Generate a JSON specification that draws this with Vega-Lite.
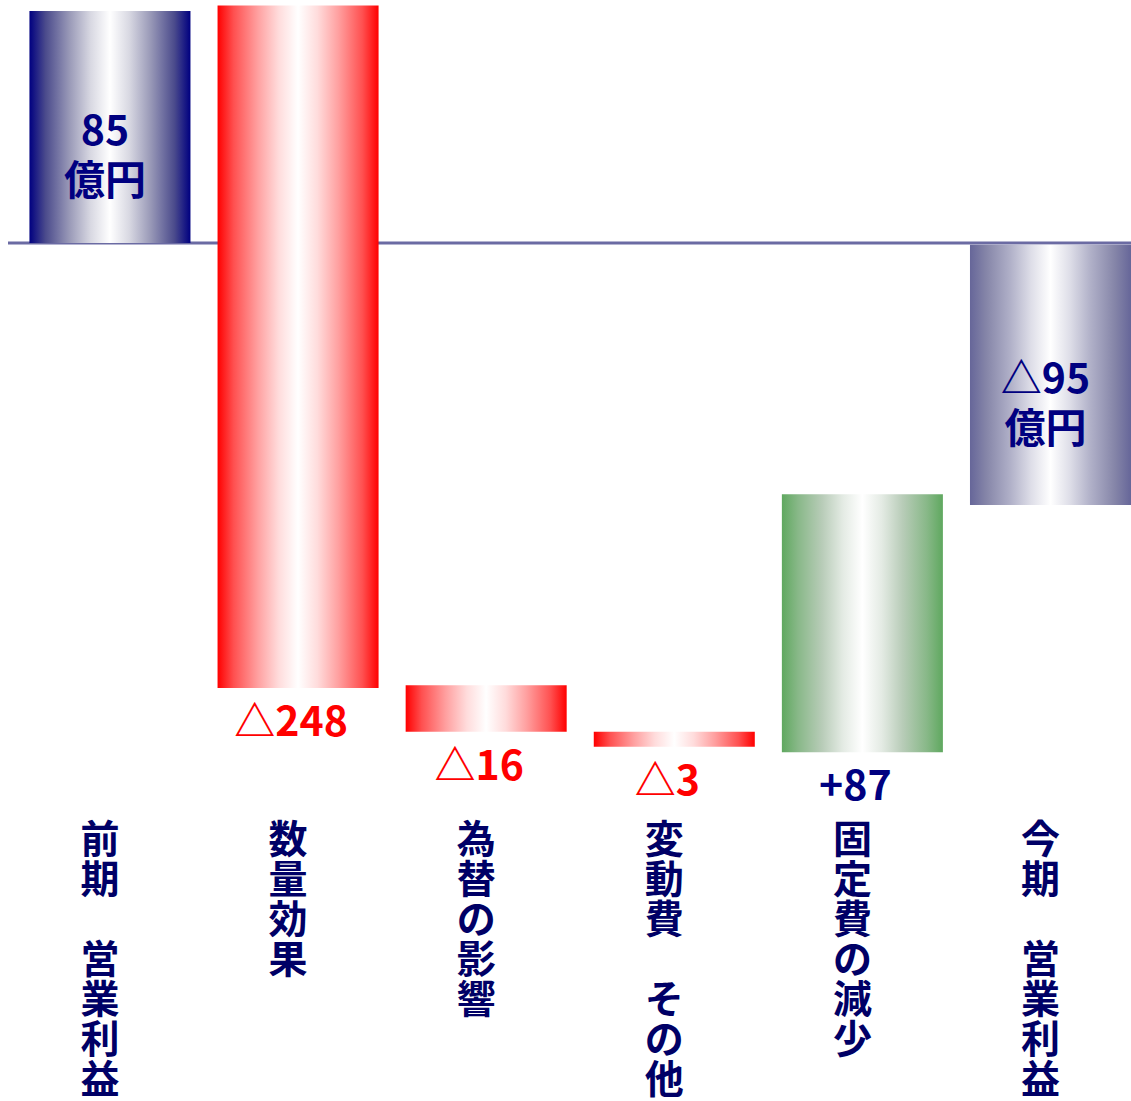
{
  "$schema": "https://vega.github.io/schema/vega-lite/v6.json",
  "width": 1123,
  "height": 800,
  "autosize": {"type": "none"},
  "padding": {"left": 8, "top": 0, "right": 0, "bottom": 301},
  "background": "white",
  "config": {"view": {"stroke": null}},
  "data": {
    "values": [
      {"cat": "前期　営業利益", "type": "total", "start": 0, "end": 85, "label": "85\n億円"},
      {"cat": "数量効果", "type": "decrease", "start": 87, "end": -163, "label": "△248"},
      {"cat": "為替の影響", "type": "decrease", "start": -162, "end": -179, "label": "△16"},
      {"cat": "変動費　その他", "type": "decrease", "start": -179, "end": -184.5, "label": "△3"},
      {"cat": "固定費の減少", "type": "increase", "start": -186.5, "end": -92, "label": "+87"},
      {"cat": "今期　営業利益", "type": "final", "start": -0.6, "end": -96, "label": "△95\n億円"}
    ]
  },
  "layer": [
    {
      "data": {"values": [{"z": 0}]},
      "mark": {"type": "rule", "color": "#6b6ba3", "strokeWidth": 3},
      "encoding": {
        "y": {"field": "z", "type": "quantitative", "scale": {"domain": [-204, 89], "nice": false, "zero": false}, "axis": null}
      }
    },
    {
      "mark": {"type": "bar", "strokeWidth": 0},
      "encoding": {
        "x": {
          "field": "cat", "type": "nominal", "sort": null,
          "scale": {"paddingInner": 0.144, "paddingOuter": 0.057, "align": 1},
          "axis": {
            "title": null, "domain": false, "ticks": false, "grid": false,
            "labelAngle": 0, "labelExpr": "split(replace(datum.label, '　', '\u2800'), '')",
            "labelFont": "Noto Sans CJK JP", "labelFontWeight": "bold",
            "labelFontSize": 39, "labelLineHeight": 40, "labelColor": "#000066",
            "labelPadding": 21, "labelOffset": -10, "labelBaseline": "top",
            "labelAlign": "center", "labelOverlap": false, "labelBound": false,
            "labelFlush": false, "labelLimit": 0
          }
        },
        "y": {"field": "start", "type": "quantitative", "scale": {"domain": [-204, 89], "nice": false, "zero": false}, "axis": null},
        "y2": {"field": "end"},
        "fill": {
          "condition": [
            {"test": "datum.type === 'total'", "value": {"gradient": "linear", "x1": 0, "y1": 0, "x2": 1, "y2": 0, "stops": [{"offset": 0, "color": "#000080"}, {"offset": 0.1, "color": "#4b4b8c"}, {"offset": 0.25, "color": "#9a9ab8"}, {"offset": 0.38, "color": "#d8d8e2"}, {"offset": 0.5, "color": "#ffffff"}, {"offset": 0.62, "color": "#d8d8e2"}, {"offset": 0.75, "color": "#9a9ab8"}, {"offset": 0.9, "color": "#4b4b8c"}, {"offset": 1, "color": "#000080"}]}},
            {"test": "datum.type === 'decrease'", "value": {"gradient": "linear", "x1": 0, "y1": 0, "x2": 1, "y2": 0, "stops": [{"offset": 0, "color": "#ff0000"}, {"offset": 0.1, "color": "#ff5050"}, {"offset": 0.25, "color": "#ffa0a0"}, {"offset": 0.38, "color": "#ffdcdc"}, {"offset": 0.5, "color": "#ffffff"}, {"offset": 0.62, "color": "#ffdcdc"}, {"offset": 0.75, "color": "#ffa0a0"}, {"offset": 0.9, "color": "#ff5050"}, {"offset": 1, "color": "#ff0000"}]}},
            {"test": "datum.type === 'increase'", "value": {"gradient": "linear", "x1": 0, "y1": 0, "x2": 1, "y2": 0, "stops": [{"offset": 0, "color": "#5fa85f"}, {"offset": 0.1, "color": "#88b888"}, {"offset": 0.25, "color": "#b8ccb8"}, {"offset": 0.38, "color": "#e4ebe4"}, {"offset": 0.5, "color": "#ffffff"}, {"offset": 0.62, "color": "#e4ebe4"}, {"offset": 0.75, "color": "#b8ccb8"}, {"offset": 0.9, "color": "#88b888"}, {"offset": 1, "color": "#5fa85f"}]}}
          ],
          "value": {"gradient": "linear", "x1": 0, "y1": 0, "x2": 1, "y2": 0, "stops": [{"offset": 0, "color": "#666699"}, {"offset": 0.1, "color": "#8585a8"}, {"offset": 0.25, "color": "#b0b0c8"}, {"offset": 0.38, "color": "#dedee8"}, {"offset": 0.5, "color": "#ffffff"}, {"offset": 0.62, "color": "#dedee8"}, {"offset": 0.75, "color": "#b0b0c8"}, {"offset": 0.9, "color": "#8585a8"}, {"offset": 1, "color": "#666699"}]}
        }
      }
    },
    {
      "transform": [
        {"filter": "datum.type === 'total' || datum.type === 'final'"},
        {"fold": ["start", "end"], "as": ["k", "v"]}
      ],
      "mark": {"type": "text", "lineBreak": "\n", "baseline": "alphabetic", "align": "center", "dy": 18, "xOffset": -5, "font": "Noto Sans CJK JP", "fontWeight": "bold", "fontSize": 41, "lineHeight": 50, "color": "#000080"},
      "encoding": {
        "x": {"field": "cat", "type": "nominal", "sort": null},
        "y": {"aggregate": "mean", "field": "v", "type": "quantitative"},
        "text": {"field": "label"}
      }
    },
    {
      "transform": [
        {"filter": "datum.type === 'decrease' || datum.type === 'increase'"},
        {"fold": ["start", "end"], "as": ["k", "v"]}
      ],
      "mark": {"type": "text", "baseline": "top", "align": "center", "dy": 16, "xOffset": -7, "font": "Noto Sans CJK JP", "fontWeight": "bold", "fontSize": 41},
      "encoding": {
        "x": {"field": "cat", "type": "nominal", "sort": null},
        "y": {"aggregate": "min", "field": "v", "type": "quantitative"},
        "text": {"field": "label"},
        "color": {"field": "type", "type": "nominal", "scale": {"domain": ["decrease", "increase"], "range": ["#ff0000", "#000080"]}, "legend": null}
      }
    }
  ]
}
